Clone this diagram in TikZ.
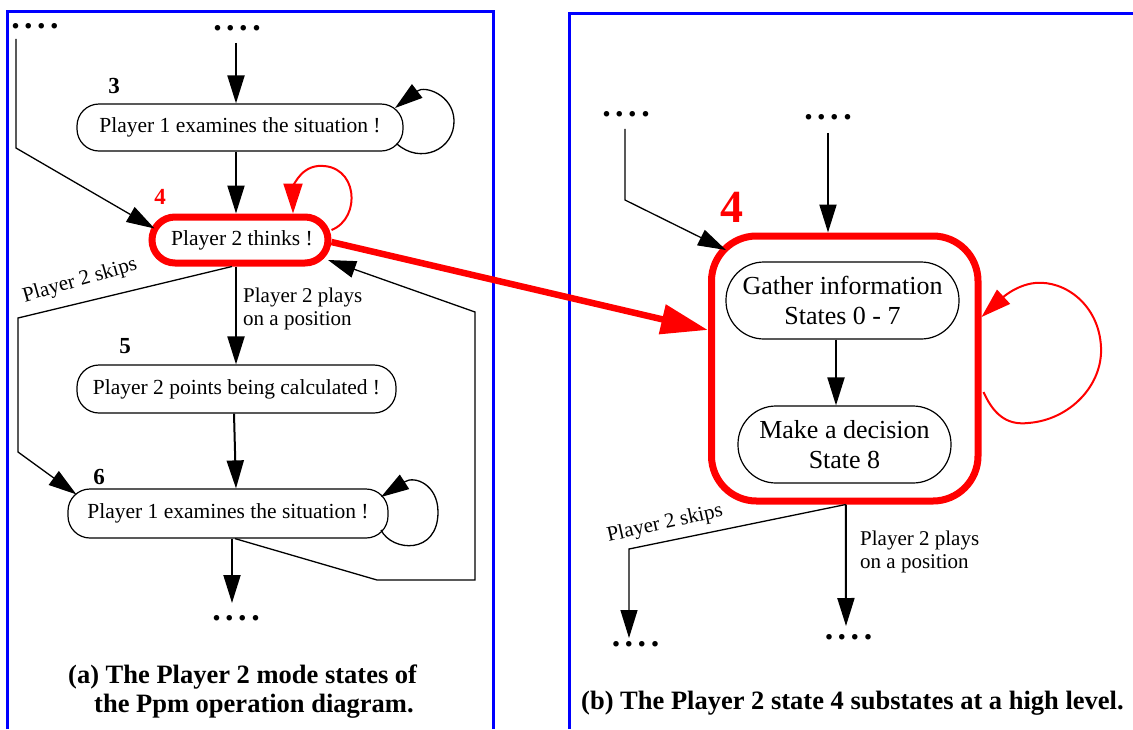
\documentclass[tikz,border=0pt]{standalone}
\usepackage{fontspec}
\setmainfont{Liberation Serif}
\usetikzlibrary{arrows.meta}
\newcommand\fourdots{{\fontsize{34}{34}\selectfont\bfseries .\hspace{4.5pt}.\hspace{4.5pt}.\hspace{4.5pt}.}}
\begin{document}
\begin{tikzpicture}[x=1pt,y=-1pt,
  state/.style={draw, line width=1.2pt, rounded corners=22pt, inner sep=0pt, font=\fontsize{21.5}{24}\selectfont},
  bigstate/.style={draw, line width=1.2pt, rounded corners=38pt, inner sep=0pt, align=center, font=\fontsize{26}{30}\selectfont},
  redstate/.style={draw=red, line width=7pt, rounded corners=23pt, inner sep=0pt, font=\fontsize{21.5}{24}\selectfont},
  bigbox/.style={draw=red, line width=7pt, rounded corners=45pt, inner sep=0pt},
  num/.style={font=\fontsize{23}{23}\selectfont\bfseries, inner sep=0pt},
  lbl/.style={font=\fontsize{21}{23}\selectfont, inner sep=0pt, align=left},
  dotsn/.style={inner sep=0pt},
  frame/.style={blue, line width=3pt},
  arr/.style={line width=2pt, -{Triangle[length=28pt,width=17pt]}},
  lin/.style={line width=1.3pt},
  linarr/.style={line width=1.3pt, -{Triangle[length=28pt,width=17pt]}},
  redloop/.style={red, line width=2pt, -{Triangle[length=30pt,width=19pt]}},
  bigarr/.style={red, line width=6.5pt, -{Triangle[length=47pt,width=29pt]}},
  captxt/.style={font=\fontsize{26.5}{29}\selectfont\bfseries, inner sep=0pt, align=left}
]
\useasboundingbox (0,0) rectangle (1133,729);
% frames
\draw[frame] (7.5,729) -- (7.5,11.5) -- (493,11.5) -- (493,729);
\draw[frame] (569,729) -- (569,13) -- (1133,13);

% ---------- left panel ----------
\coordinate (colA) at (236,0);
\node[dotsn] (dotsL) at (35,26) {\fourdots};
\node[dotsn] (dotsC) at (237,28) {\fourdots};
\node[dotsn] (dotsB) at (236,618) {\fourdots};

\node[state, minimum width=326pt, minimum height=47pt] (s3) at (240,127.5) {Player 1 examines the situation !};
\node[redstate, minimum width=176pt, minimum height=46pt] (s4) at (240,240) {\hspace*{4pt}Player 2 thinks !};
\node[state, minimum width=319pt, minimum height=48pt] (s5) at (236.5,389) {Player 2 points being calculated !};
\node[state, minimum width=320pt, minimum height=49pt] (s6) at (228,513.5) {Player 1 examines the situation !};

\node[num] (n3) at (114,86) {3};
\node[num, text=red] (n4) at (160,197) {4};
\node[num] (n5) at (125,346) {5};
\node[num] (n6) at (99,477) {6};

\node[lbl, anchor=base west] (lplays) at (243,325) {Player 2 plays\\on a position};
\node[lbl, rotate=16] (lskips) at (80,281) {Player 2 skips};

\coordinate (bL1) at (16,148);
\coordinate (bS1) at (18,318);
\coordinate (bS2) at (18,452);
\coordinate (bR1) at (377,580);
\coordinate (bR2) at (475,580);
\coordinate (bR3) at (475,312);

\draw[arr] ([yshift=-12pt]colA |- dotsC.south) -- (colA |- s3.north);
\draw[arr] (colA |- s3.south) -- (colA |- s4.north);
\draw[linarr] ([yshift=-10pt]bL1 |- dotsL.south) -- (bL1) -- ([xshift=6pt,yshift=-15pt]s4.north west);
\draw[arr] (colA |- s4.south) -- (colA |- s5.north);
\draw[linarr] ([xshift=-8pt]s4.south) -- (bS1) -- (bS2) -- ([xshift=9pt,yshift=-6pt]s6.north west);
\draw[arr] ([xshift=-2.5pt]s5.south) -- (colA |- s6.north);
\draw[arr] ([xshift=4pt]s6.south) -- ([xshift=-4pt,yshift=15pt]dotsB.center);
\draw[linarr] ([xshift=7pt]s6.south) -- (bR1) -- (bR2) -- (bR3) -- ([xshift=-3.5pt,yshift=6.5pt]s4.south east);

% self loops
\draw[linarr] ([xshift=-7pt,yshift=8pt]s3.south east) .. controls (420,165) and (455,150) .. (454,120)
   .. controls (453,95) and (425,85) .. ([xshift=-8.6pt,yshift=-4.6pt]s3.north east);
\draw[linarr] ([xshift=-7.6pt,yshift=8.6pt]s6.south east) .. controls (392,552) and (438,555) .. (438,512)
   .. controls (438,485) and (415,475) .. ([xshift=-7.6pt,yshift=-8.6pt]s6.north east);
\draw[redloop] ([yshift=10pt]s4.east) .. controls (362,218) and (358,163) .. (318,166)
   .. controls (298,168) and (293,190) .. ([xshift=53pt]s4.north);

% ---------- right panel ----------
\node[bigbox, minimum width=266.5pt, minimum height=265pt] (big) at (844.75,368.5) {};
\node[bigstate, minimum width=233pt, minimum height=77pt] (g1) at (842.5,300.5) {Gather information\\States 0 - 7};
\node[bigstate, minimum width=213pt, minimum height=77pt] (g2) at (844.5,444.5) {Make a decision\\State 8};
\node[font=\fontsize{46}{46}\selectfont\bfseries, text=red, inner sep=0pt] (n4b) at (731.5,207.5) {4};

\node[dotsn] (dotsR1) at (626,114) {\fourdots};
\node[dotsn] (dotsR2) at (828,117) {\fourdots};
\node[dotsn] (dotsRB1) at (635.5,644) {\fourdots};
\node[dotsn] (dotsRB2) at (848.5,637) {\fourdots};

\node[lbl, anchor=base west] (rplays) at (860,568) {Player 2 plays\\on a position};
\node[lbl, rotate=12.5] (rskips) at (665,524) {Player 2 skips};

\coordinate (colB) at (836,0);
\coordinate (bT1) at (625,200);
\coordinate (bB1) at (629,549);

\draw[linarr] ([yshift=-12pt]bT1 |- dotsR1.south) -- (bT1) -- ([xshift=18pt,yshift=-17.5pt]big.north west);
\draw[arr] ([yshift=-13pt]dotsR2.south) -- (dotsR2.south |- big.north);
\draw[arr] (colB |- g1.south) -- (colB |- g2.north);
\draw[linarr] ([xshift=1pt]big.south) -- (bB1) -- ([xshift=-6.5pt,yshift=6pt]dotsRB1.center);
\draw[arr] ([xshift=1pt]big.south) -- ([xshift=-2.5pt,yshift=11pt]dotsRB2.center);

\draw[redloop] ([xshift=2pt,yshift=-23.5pt]big.east) .. controls (995,418) and (1010,425) .. (1028,423)
   .. controls (1070,420) and (1103,385) .. (1101,347)
   .. controls (1099,305) and (1065,280) .. (1035,283)
   .. controls (1015,285) and (1000,300) .. ([yshift=51.5pt]big.east);

% big red arrow
\draw[bigarr] ([yshift=-2pt]s4.east) -- ([yshift=38.5pt]big.west);

% captions
\node[captxt, anchor=base west] (capa) at (68,712) {(a) The Player 2 mode states of\\\hspace*{26pt}the Ppm operation diagram.};
\node[captxt, anchor=base west] (capb) at (581,709) {(b) The Player 2 state 4 substates at a high level.};
\end{tikzpicture}
\end{document}
